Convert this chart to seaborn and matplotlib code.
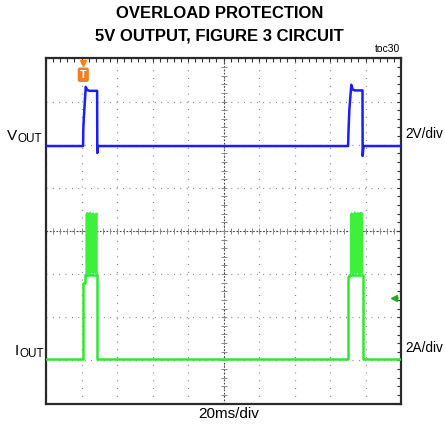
import matplotlib
matplotlib.use('Agg')
import matplotlib.pyplot as plt
from matplotlib.ticker import MultipleLocator
import numpy as np
import seaborn as sns

# time in ms (20ms/div, 10 div), traces in screen divisions (8 div, centre = 0)
vout_ms = [0, 20.9, 21.0, 21.3, 22.4, 23.2, 24.5, 28.8, 28.9, 29.3,
           170.2, 170.4, 170.9, 172.0, 172.8, 174.0, 178.3, 178.4, 178.9, 200]
vout_div = [1.97, 1.97, 2.35, 2.62, 3.34, 3.27, 3.25, 3.25, 1.81, 1.97,
            1.97, 2.30, 2.81, 3.39, 3.28, 3.26, 3.26, 1.74, 1.97, 1.97]

iout_ms = [0, 21.0, 21.0, 21.9, 21.9, 28.9, 28.9,
           170.2, 170.2, 170.9, 170.9, 178.4, 178.4, 200]
iout_div = [-2.97, -2.97, -1.21, -1.21, -1.02, -1.02, -2.97,
            -2.97, -1.07, -1.07, -1.02, -1.02, -2.97, -2.97]

burst1_ms = [21.9, 22.8, 23.7, 24.6, 25.4, 26.3, 27.1, 28.0, 28.9]
burst1_top = [0.40, 0.46, 0.43, 0.47, 0.42, 0.45, 0.41, 0.44, 0.43]
burst1_bot = [-1.03, -1.06, -0.98, -1.02, -0.95, -1.01, -0.97, -1.00, -0.99]
burst2_ms = [170.9, 171.8, 172.7, 173.6, 174.5, 175.4, 176.3, 177.3, 178.4]
burst2_top = [0.40, 0.45, 0.42, 0.47, 0.43, 0.45, 0.44, 0.46, 0.43]
burst2_bot = [-1.05, -0.98, -1.03, -0.97, -1.01, -0.96, -1.02, -0.98, -1.00]

trig_ms = 21.0
ch2_level = -1.55

sns.set_style('white')
plt.rcParams['font.family'] = ['Liberation Sans', 'DejaVu Sans']
plt.rcParams['text.color'] = 'black'

W, H = 445, 426
fig = plt.figure(figsize=(W / 100, H / 100), dpi=100)
ax = fig.add_axes([46 / W, (H - 403.5) / H, 355 / W, 345 / H])

blue = '#1c1cff'
green = '#2fe82f'

sns.lineplot(x=vout_ms, y=vout_div, ax=ax, color=blue, linewidth=1.8,
             estimator=None, sort=False, zorder=5)
sns.lineplot(x=iout_ms, y=iout_div, ax=ax, color=green, linewidth=1.8,
             estimator=None, sort=False, zorder=5)
ax.fill_between(burst1_ms, burst1_bot, burst1_top, color='#3cf03c', lw=0, zorder=4)
ax.fill_between(burst2_ms, burst2_bot, burst2_top, color='#3cf03c', lw=0, zorder=4)

ax.set_xlim(0, 200)
ax.set_ylim(-4, 4)

# graticule
ax.xaxis.set_major_locator(MultipleLocator(20))
ax.yaxis.set_major_locator(MultipleLocator(1))
ax.xaxis.set_minor_locator(MultipleLocator(4))
ax.yaxis.set_minor_locator(MultipleLocator(0.2))
ax.set_xticklabels([])
ax.set_yticklabels([])
ax.tick_params(which='both', direction='in', top=True, right=True,
               length=3, width=0.8, color='#333333')
ax.xaxis.grid(True, color='#777777', linewidth=0.9, linestyle=(0, (0.7, 5.5)))
ax.yaxis.grid(True, color='#777777', linewidth=0.9, linestyle=(0, (0.7, 4.4)))
ax.set_axisbelow(True)
for s in ax.spines.values():
    s.set_linewidth(1.6)
    s.set_color('#2a2a2a')

ax.axhline(0, color='#444444', lw=0.8, ls=(0, (1.5, 1.5)), zorder=2)
ax.axvline(100, color='#444444', lw=0.8, ls=(0, (1.5, 1.5)), zorder=2)
xt = np.arange(4, 200, 4)
yt = np.arange(-3.8, 4, 0.2)
ax.plot(xt, np.zeros_like(xt), ls='none', marker='|', ms=4.5, mew=0.7,
        color='#888888', zorder=2)
ax.plot(np.full_like(yt, 100), yt, ls='none', marker='_', ms=4.5, mew=0.7,
        color='#888888', zorder=2)

# trigger marker and channel 2 level marker
ax.plot([trig_ms], [0.988], marker='v', ms=5, color='#f07f1f',
        transform=ax.get_xaxis_transform(), clip_on=False, zorder=6)
ax.text(trig_ms, 0.953, 'T', transform=ax.get_xaxis_transform(), ha='center',
        va='center', color='white', fontsize=8, weight='bold', zorder=6,
        bbox=dict(boxstyle='round,pad=0.2', fc='#f07f1f', ec='none'))
ax.plot([196.0, 198.5], [ch2_level, ch2_level], color='#22aa22', lw=1.2, zorder=6)
ax.plot([196.0], [ch2_level], marker='<', ms=5, color='#22aa22', zorder=6)


def px(x, y):
    return x / W, 1 - y / H


fig.text(*px(220, 14), 'OVERLOAD PROTECTION', ha='center', va='center',
         fontsize=12, weight='bold')
fig.text(*px(219, 36), '5V OUTPUT, FIGURE 3 CIRCUIT', ha='center', va='center',
         fontsize=12, weight='bold')
fig.text(*px(400, 49), 'toc30', ha='right', va='center', fontsize=7.5)

fig.text(*px(7, 140), 'V', ha='left', va='baseline', fontsize=11)
fig.text(*px(18, 141.5), 'OUT', ha='left', va='baseline', fontsize=8.5)
fig.text(*px(14.5, 355), 'I', ha='left', va='baseline', fontsize=11)
fig.text(*px(19.5, 357), 'OUT', ha='left', va='baseline', fontsize=8.5)
fig.text(*px(405, 138), '2V/div', ha='left', va='baseline', fontsize=9.8)
fig.text(*px(405, 352), '2A/div', ha='left', va='baseline', fontsize=9.8)
fig.text(*px(228.5, 418), '20ms/div', ha='center', va='baseline', fontsize=11)

fig.savefig('out.png', dpi=100)
